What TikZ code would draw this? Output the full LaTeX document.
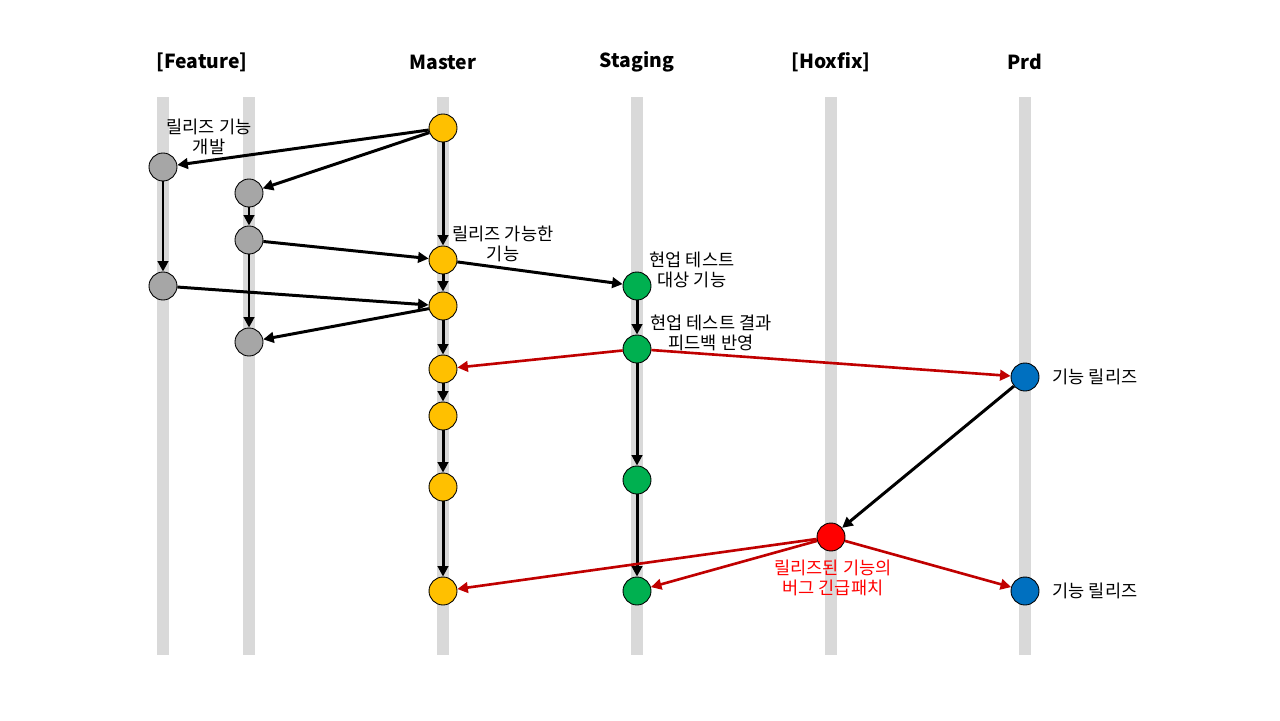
\documentclass[tikz,border=0pt]{standalone}
\usepackage{fontspec}
\setmainfont{Noto Sans CJK KR}
\usepackage{tikz}
\usetikzlibrary{calc,shapes,arrows.meta}

\definecolor{lanegray}{HTML}{D9D9D9}
\definecolor{commitgold}{HTML}{FFC000}
\definecolor{commitgray}{HTML}{A6A6A6}
\definecolor{commitgreen}{HTML}{00B050}
\definecolor{commitblue}{HTML}{0070C0}
\definecolor{fixred}{HTML}{C00000}

\tikzset{
  commit/.style={draw,circle,minimum size=0.56cm,inner sep=0pt,line width=0.5pt},
  lane/.style={lanegray,line width=6.8pt},
  head/.style={font=\bfseries\fontsize{11}{13}\selectfont},
  note/.style={font=\fontsize{10}{11}\selectfont,align=center},
  flow/.style={-{Triangle[length=6pt,width=6pt]},line width=1.7pt},
  fix/.style={-{Triangle[length=6pt,width=6pt]},line width=1.5pt,fixred}
}

\begin{document}
\begin{tikzpicture}[x=0.02cm,y=-0.02cm]
          \useasboundingbox (0,0) rectangle (1280,720);
          % lanes
          \foreach \lx in {163,249,443,637,831,1025}
            \draw[lane] (\lx,97) -- (\lx,655);
          \node[head] (hfeat) at (202,62) {[Feature]};
          \node[head] (hmaster) at (443,62) {Master};
          \node[head] (hstage) at (637,62) {Staging};
          \node[head] (hfix) at (831,62) {[Hoxfix]};
          \node[head] (hprd) at (1025,62) {Prd};
          % commits
          \node[commit,fill=commitgold] (m1) at (443,128) {};
          \node[commit,fill=commitgold] (m2) at (443,260) {};
          \node[commit,fill=commitgold] (m3) at (443,306) {};
          \node[commit,fill=commitgold] (m4) at (443,369) {};
          \node[commit,fill=commitgold] (m5) at (443,416) {};
          \node[commit,fill=commitgold] (m6) at (443,487) {};
          \node[commit,fill=commitgold] (m7) at (443,591) {};
          \node[commit,fill=commitgray] (f1) at (163,167) {};
          \node[commit,fill=commitgray] (f2) at (163,286) {};
          \node[commit,fill=commitgray] (g1) at (249,193) {};
          \node[commit,fill=commitgray] (g2) at (249,240) {};
          \node[commit,fill=commitgray] (g3) at (249,342) {};
          \node[commit,fill=commitgreen] (s1) at (637,286) {};
          \node[commit,fill=commitgreen] (s2) at (637,349) {};
          \node[commit,fill=commitgreen] (s3) at (637,480) {};
          \node[commit,fill=commitgreen] (s4) at (637,591) {};
          \node[commit,fill=red] (h1) at (831,537) {};
          \node[commit,fill=commitblue] (p1) at (1025,377) {};
          \node[commit,fill=commitblue] (p2) at (1025,591) {};
          % labels
          \node[note] (lfeat) at (209,137) {릴리즈 기능\\개발};
          \node[note] (lready) at (503,244) {릴리즈 가능한\\기능};
          \node[note] (ltest) at (692,270) {현업 테스트\\대상 기능};
          \node[note] (lfeed) at (711,333) {현업 테스트 결과\\피드백 반영};
          \node[note] (lrel1) at (1095,377) {기능 릴리즈};
          \node[note,text=red] (lbug) at (833,578) {릴리즈된 기능의\\버그 긴급패치};
          \node[note] (lrel2) at (1095,591) {기능 릴리즈};
          % flows
          \path[flow] (m1) edge (f1);
          \path[flow] (m1) edge (g1);
          \path[flow] (m1) edge (m2);
          \path[flow] (g1) edge (g2);
          \path[flow] (g2) edge (m2);
          \path[flow] (g2) edge (g3);
          \path[flow] (f1) edge (f2);
          \path[flow] (f2) edge (m3);
          \path[flow] (m2) edge (s1);
          \path[flow] (m2) edge (m3);
          \path[flow] (m3) edge (g3);
          \path[flow] (m3) edge (m4);
          \path[flow] (m4) edge (m5);
          \path[flow] (m5) edge (m6);
          \path[flow] (m6) edge (m7);
          \path[flow] (s1) edge (s2);
          \path[flow] (s2) edge (s3);
          \path[flow] (s3) edge (s4);
          \path[flow] (p1) edge (h1);
          \path[fix] (s2) edge (m4);
          \path[fix] (s2) edge (p1);
          \path[fix] (h1) edge (m7);
          \path[fix] (h1) edge (s4);
          \path[fix] (h1) edge (p2);
        \end{tikzpicture}
\end{document}
